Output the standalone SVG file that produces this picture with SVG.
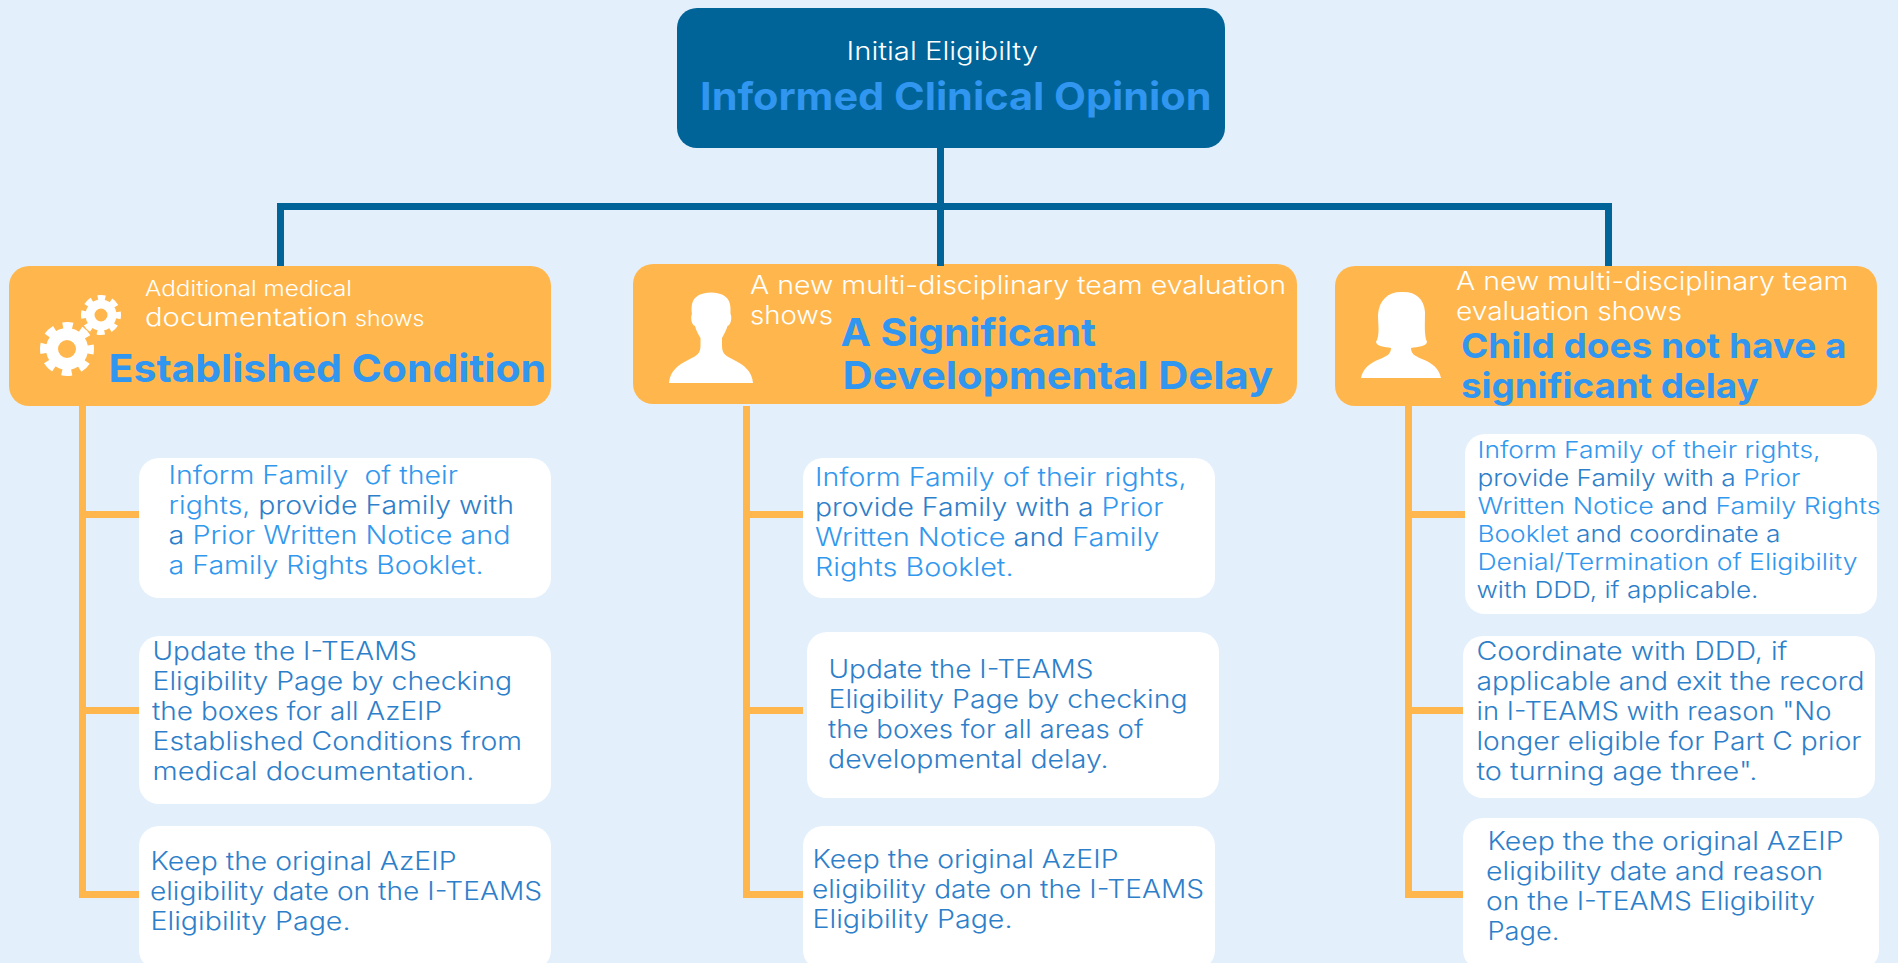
<svg xmlns="http://www.w3.org/2000/svg" width="1898" height="963" viewBox="0 0 1898 963">
<style>
text{font-family:"Inter","Open Sans","Liberation Sans",sans-serif;font-weight:400;white-space:pre}
.bg{fill:#E3F0FC}
.root{fill:#006499}
.card{fill:#FFB74D}
.box{fill:#FFFFFF}
.cb{fill:none;stroke:#006499;stroke-width:7}
.co{fill:none;stroke:#FFB74D;stroke-width:7}
.ico{fill:#FFFFFF}
.w{fill:#FFFFFF;font-weight:300}
.w26{font-size:25.5px}
.w22{font-size:22px}
.t{fill:#3096F0;font-weight:700;font-size:38px}
.t2{fill:#3096F0;font-weight:700;font-size:34.5px}
.d{fill:#2E7FCA;font-size:25px;font-weight:350}
.l{fill:#3298EE;font-size:25px;font-weight:350}
.s{font-size:23.2px}
tspan.dk{fill:#2E7FCA}
tspan.lt{fill:#3298EE}
.ring{fill:none;stroke:#FFFFFF}
</style>
<rect class="bg" x="0" y="0" width="1898" height="963"/>
<g id="root">
<rect class="root" x="677" y="8" width="548" height="140" rx="20"/>
<text class="w w26" x="846.5" y="60" textLength="191.5" lengthAdjust="spacingAndGlyphs">Initial Eligibilty</text>
<text class="t" x="700" y="110" textLength="511.5" lengthAdjust="spacingAndGlyphs">Informed Clinical Opinion</text>
</g>
<g id="card-established">
<rect class="card" x="9" y="266" width="542" height="140" rx="20"/>
<g id="gears">
<circle class="ring" cx="67" cy="349" r="15" stroke-width="12"/>
<circle class="ring" cx="67" cy="349" r="23.5" stroke-width="7" stroke-dasharray="10 8.46" stroke-dashoffset="5"/>
<circle class="ring" cx="101" cy="315" r="11" stroke-width="9"/>
<circle class="ring" cx="101" cy="315" r="17" stroke-width="6" stroke-dasharray="7.4 5.95" stroke-dashoffset="3.7"/>
</g>
<text class="w w22" x="145" y="296" textLength="207" lengthAdjust="spacingAndGlyphs">Additional medical</text>
<text class="w w26" x="145" y="326" textLength="203" lengthAdjust="spacingAndGlyphs">documentation</text>
<text class="w w22" x="355" y="326" textLength="69.5" lengthAdjust="spacingAndGlyphs">shows</text>
<text class="t" x="108.6" y="382" textLength="437.4" lengthAdjust="spacingAndGlyphs">Established Condition</text>
</g>
<g id="card-delay">
<rect class="card" x="633" y="264" width="664" height="140" rx="20"/>
<path class="ico" d="M669 383C670 371 678 365 688 360C696 356 700.5 354 700.5 346L700.5 338C698 334 696 330 695 326C691 325 690.5 316 692 314C691 305 691 293 711 292.5C731 293 731 305 730.5 314C732 316 731.5 325 727.5 326C726.5 330 724 334 722 338L722 346C722 354 726 356 734 360C744 365 752 371 753 383Z"/>
<text class="w w26" x="750" y="294" textLength="536" lengthAdjust="spacingAndGlyphs">A new multi-disciplinary team evaluation</text>
<text class="w w26" x="750" y="324" textLength="83" lengthAdjust="spacingAndGlyphs">shows</text>
<text class="t" x="840.6" y="346" textLength="255.4" lengthAdjust="spacingAndGlyphs">A Significant</text>
<text class="t" x="842.6" y="389" textLength="430.4" lengthAdjust="spacingAndGlyphs">Developmental Delay</text>
</g>
<g id="card-no-delay">
<rect class="card" x="1335" y="266" width="542" height="140" rx="20"/>
<path class="ico" d="M1361 378C1363 368 1370 363 1380 359C1387 356 1391 354 1391 348C1385 347 1376 346 1376 342C1380 335 1378 325 1378 315C1379 300 1388 292 1401 292C1415 291 1424 298 1425 312C1425 325 1424 335 1427 342C1427 346 1417 347 1411 348C1411 354 1415 356 1422 359C1432 363 1439 368 1441 378Z"/>
<text class="w w26" x="1456" y="290" textLength="392.5" lengthAdjust="spacingAndGlyphs">A new multi-disciplinary team</text>
<text class="w w26" x="1456" y="320" textLength="226" lengthAdjust="spacingAndGlyphs">evaluation shows</text>
<text class="t2" x="1461" y="358" textLength="385.5" lengthAdjust="spacingAndGlyphs">Child does not have a</text>
<text class="t2" x="1461" y="398" textLength="297.5" lengthAdjust="spacingAndGlyphs">significant delay</text>
</g>
<g id="box-1-1">
<rect class="box" x="139" y="458" width="412" height="140" rx="20"/>
<text class="l" x="168.5" y="484" textLength="289.5" lengthAdjust="spacingAndGlyphs">Inform Family  of their</text>
<text class="l" x="168.5" y="514" textLength="345.5" lengthAdjust="spacingAndGlyphs">rights, <tspan class="dk">provide Family with</tspan></text>
<text class="l" x="168.5" y="544" textLength="342" lengthAdjust="spacingAndGlyphs"><tspan class="dk">a</tspan> Prior Written Notice and</text>
<text class="l" x="168.5" y="574" textLength="315" lengthAdjust="spacingAndGlyphs">a Family Rights Booklet.</text>
</g>
<g id="box-1-2">
<rect class="box" x="139" y="636" width="412" height="168" rx="20"/>
<text class="d" x="152.5" y="660" textLength="264.5" lengthAdjust="spacingAndGlyphs">Update the I-TEAMS</text>
<text class="d" x="152.5" y="690" textLength="359.5" lengthAdjust="spacingAndGlyphs">Eligibility Page by checking</text>
<text class="d" x="152" y="720" textLength="290" lengthAdjust="spacingAndGlyphs">the boxes for all AzEIP</text>
<text class="d" x="152.5" y="750" textLength="369.5" lengthAdjust="spacingAndGlyphs">Established Conditions from</text>
<text class="d" x="152.5" y="780" textLength="322" lengthAdjust="spacingAndGlyphs">medical documentation.</text>
</g>
<g id="box-1-3">
<rect class="box" x="139" y="826" width="412" height="144" rx="20"/>
<text class="d" x="150.5" y="870" textLength="306" lengthAdjust="spacingAndGlyphs">Keep the original AzEIP</text>
<text class="d" x="150" y="900" textLength="392" lengthAdjust="spacingAndGlyphs">eligibility date on the I-TEAMS</text>
<text class="d" x="150.5" y="930" textLength="200" lengthAdjust="spacingAndGlyphs">Eligibility Page.</text>
</g>
<g id="box-2-1">
<rect class="box" x="803" y="458" width="412" height="140" rx="20"/>
<text class="l" x="815" y="486" textLength="371.5" lengthAdjust="spacingAndGlyphs">Inform Family of their rights,</text>
<text class="l" x="815" y="516" textLength="348.5" lengthAdjust="spacingAndGlyphs"><tspan class="dk">provide Family with a</tspan> Prior</text>
<text class="l" x="815" y="546" textLength="344.5" lengthAdjust="spacingAndGlyphs">Written Notice <tspan class="dk">and</tspan> Family</text>
<text class="l" x="815" y="576" textLength="198.5" lengthAdjust="spacingAndGlyphs">Rights Booklet.</text>
</g>
<g id="box-2-2">
<rect class="box" x="807" y="632" width="412" height="166" rx="20"/>
<text class="d" x="828.5" y="678" textLength="265" lengthAdjust="spacingAndGlyphs">Update the I-TEAMS</text>
<text class="d" x="828.5" y="708" textLength="359" lengthAdjust="spacingAndGlyphs">Eligibility Page by checking</text>
<text class="d" x="828" y="738" textLength="315.5" lengthAdjust="spacingAndGlyphs">the boxes for all areas of</text>
<text class="d" x="828" y="768" textLength="280.5" lengthAdjust="spacingAndGlyphs">developmental delay.</text>
</g>
<g id="box-2-3">
<rect class="box" x="803" y="826" width="412" height="144" rx="20"/>
<text class="d" x="812.5" y="868" textLength="306" lengthAdjust="spacingAndGlyphs">Keep the original AzEIP</text>
<text class="d" x="812" y="898" textLength="392" lengthAdjust="spacingAndGlyphs">eligibility date on the I-TEAMS</text>
<text class="d" x="812.5" y="928" textLength="200" lengthAdjust="spacingAndGlyphs">Eligibility Page.</text>
</g>
<g id="box-3-1">
<rect class="box" x="1465" y="434" width="412" height="180" rx="20"/>
<text class="l s" x="1477.5" y="458" textLength="343" lengthAdjust="spacingAndGlyphs">Inform Family of their rights,</text>
<text class="l s" x="1477.5" y="486" textLength="323" lengthAdjust="spacingAndGlyphs"><tspan class="dk">provide Family with a</tspan> Prior</text>
<text class="l s" x="1477.5" y="514" textLength="403" lengthAdjust="spacingAndGlyphs">Written Notice <tspan class="dk">and</tspan> Family Rights</text>
<text class="l s" x="1477.5" y="542" textLength="303" lengthAdjust="spacingAndGlyphs">Booklet <tspan class="dk">and coordinate a</tspan></text>
<text class="l s" x="1477.5" y="570" textLength="380" lengthAdjust="spacingAndGlyphs">Denial/Termination of Eligibility</text>
<text class="d s" x="1476.5" y="598" textLength="282" lengthAdjust="spacingAndGlyphs">with DDD, if applicable.</text>
</g>
<g id="box-3-2">
<rect class="box" x="1463" y="636" width="412" height="162" rx="20"/>
<text class="d" x="1476.5" y="660" textLength="311" lengthAdjust="spacingAndGlyphs">Coordinate with DDD, if</text>
<text class="d" x="1476.5" y="690" textLength="388" lengthAdjust="spacingAndGlyphs">applicable and exit the record</text>
<text class="d" x="1476.5" y="720" textLength="355" lengthAdjust="spacingAndGlyphs">in I-TEAMS with reason "No</text>
<text class="d" x="1476.5" y="750" textLength="385" lengthAdjust="spacingAndGlyphs">longer eligible for Part C prior</text>
<text class="d" x="1476.5" y="780" textLength="281" lengthAdjust="spacingAndGlyphs">to turning age three".</text>
</g>
<g id="box-3-3">
<rect class="box" x="1463" y="818" width="416" height="152" rx="20"/>
<text class="d" x="1487.5" y="850" textLength="356" lengthAdjust="spacingAndGlyphs">Keep the the original AzEIP</text>
<text class="d" x="1486" y="880" textLength="337" lengthAdjust="spacingAndGlyphs">eligibility date and reason</text>
<text class="d" x="1486" y="910" textLength="329" lengthAdjust="spacingAndGlyphs">on the I-TEAMS Eligibility</text>
<text class="d" x="1487.5" y="940" textLength="72" lengthAdjust="spacingAndGlyphs">Page.</text>
</g>
<g id="connectors">
<path class="cb" d="M280.5 266V206.5H1608.5V266"/>
<path class="cb" d="M940.5 148V266"/>
<path class="co" d="M82.5 406V894.5H139M82.5 514.5H139M82.5 710.5H139"/>
<path class="co" d="M746.5 406V894.5H803M746.5 514.5H803M746.5 710.5H803"/>
<path class="co" d="M1408.5 406V894.5H1463M1408.5 514.5H1465M1408.5 710.5H1463"/>
</g>
</svg>
